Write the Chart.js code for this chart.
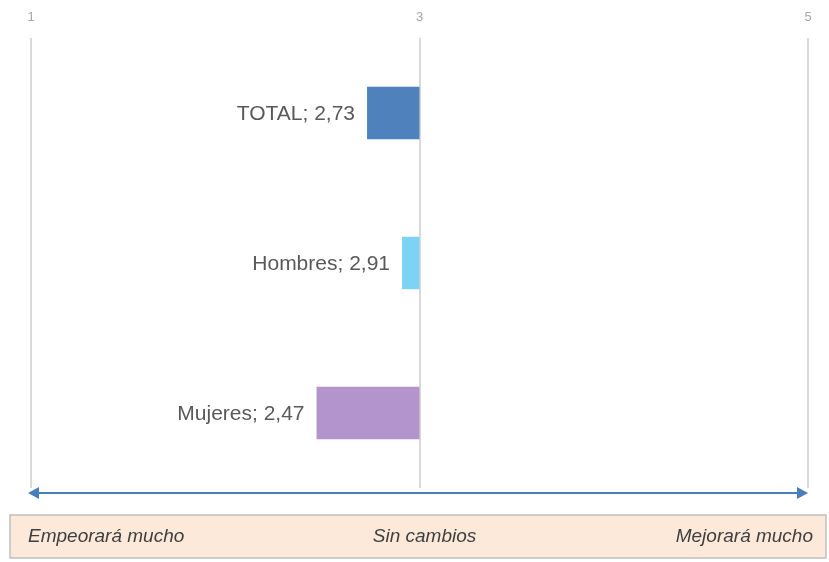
<!DOCTYPE html>
<html lang="es">
<head>
    <meta charset="UTF-8">
    <title>Expectativas</title>
    <script src="https://cdn.jsdelivr.net/npm/chart.js"></script>
    <style>
        html, body { margin: 0; padding: 0; background: #fff; }
        #wrap { width: 829px; height: 562px; position: relative; }
    </style>
</head>
<body>
    <div id="wrap"><canvas id="scoreChart"></canvas></div>

    <script>
        // data
        const categories = ['TOTAL', 'Hombres', 'Mujeres'];
        const scores = [2.73, 2.91, 2.47];
        const barColors = ['#4f81bd', '#7dd3f4', '#b394cc'];
        const baseline = 3;
        const scaleMin = 1;
        const scaleMax = 5;
        const tickStep = 2;
        const scaleCaptions = ['Empeorará mucho', 'Sin cambios', 'Mejorará mucho'];

        const fmt = v => v.toFixed(2).replace('.', ',');

        // labels "TOTAL; 2,73" to the left of each bar
        const barLabels = {
            id: 'barLabels',
            afterDatasetsDraw(chart) {
                const ctx = chart.ctx;
                const meta = chart.getDatasetMeta(0);
                ctx.save();
                ctx.font = '21px "Liberation Sans", Arial, sans-serif';
                ctx.fillStyle = '#595959';
                ctx.textAlign = 'right';
                ctx.textBaseline = 'middle';
                meta.data.forEach((bar, i) => {
                    const left = Math.min(bar.x, bar.base);
                    ctx.fillText(categories[i] + '; ' + fmt(scores[i]), left - 12, bar.y + 1);
                });
                ctx.restore();
            }
        };

        // double arrow and caption box under the plot
        const scaleLegend = {
            id: 'scaleLegend',
            afterDraw(chart) {
                const ctx = chart.ctx;
                const x = chart.scales.x;
                const area = chart.chartArea;
                const x1 = x.getPixelForValue(scaleMin) - 3;
                const x2 = x.getPixelForValue(scaleMax);
                const xm = x.getPixelForValue(baseline);
                const ay = area.bottom + 5;
                ctx.save();
                ctx.strokeStyle = '#4a7ebb';
                ctx.fillStyle = '#4a7ebb';
                ctx.lineWidth = 2;
                ctx.beginPath();
                ctx.moveTo(x1 + 8, ay);
                ctx.lineTo(x2 - 8, ay);
                ctx.stroke();
                ctx.beginPath();
                ctx.moveTo(x1, ay);
                ctx.lineTo(x1 + 11, ay - 6);
                ctx.lineTo(x1 + 11, ay + 6);
                ctx.closePath();
                ctx.fill();
                ctx.beginPath();
                ctx.moveTo(x2, ay);
                ctx.lineTo(x2 - 11, ay - 6);
                ctx.lineTo(x2 - 11, ay + 6);
                ctx.closePath();
                ctx.fill();

                // caption box
                const bx = 10, by = area.bottom + 27, bw = 816, bh = 43;
                ctx.fillStyle = '#fde9da';
                ctx.fillRect(bx, by, bw, bh);
                ctx.strokeStyle = '#bfbfbf';
                ctx.lineWidth = 1.5;
                ctx.strokeRect(bx, by, bw, bh);

                ctx.font = 'italic 19px "Liberation Sans", Arial, sans-serif';
                ctx.fillStyle = '#404040';
                ctx.textBaseline = 'middle';
                const ty = by + bh / 2;
                ctx.textAlign = 'left';
                ctx.fillText(scaleCaptions[0], x1, ty);
                ctx.textAlign = 'center';
                ctx.fillText(scaleCaptions[1], xm + 5, ty);
                ctx.textAlign = 'right';
                ctx.fillText(scaleCaptions[2], x2 + 5, ty);
                ctx.restore();
            }
        };

        const scoreChart = new Chart(document.getElementById('scoreChart'), {
            type: 'bar',
            data: {
                labels: categories,
                datasets: [{
                    data: scores.map(v => [v, baseline]),
                    backgroundColor: barColors,
                    borderWidth: 0,
                    categoryPercentage: 0.35,
                    barPercentage: 1
                }]
            },
            options: {
                indexAxis: 'y',
                responsive: true,
                maintainAspectRatio: false,
                animation: false,
                layout: { padding: { left: 31, right: 21, top: 8, bottom: 74 } },
                plugins: {
                    legend: { display: false },
                    tooltip: { enabled: false }
                },
                scales: {
                    x: {
                        position: 'top',
                        min: scaleMin,
                        max: scaleMax,
                        afterFit(scale) { scale.height = 30; },
                        ticks: {
                            stepSize: tickStep,
                            padding: 13,
                            color: '#a6a6a6',
                            font: { size: 13, family: '"Liberation Sans", Arial, sans-serif' }
                        },
                        grid: {
                            color: '#d9d9d9',
                            lineWidth: 2,
                            drawTicks: false
                        },
                        border: { display: false }
                    },
                    y: {
                        display: false
                    }
                }
            },
            plugins: [barLabels, scaleLegend]
        });
    </script>
</body>
</html>
